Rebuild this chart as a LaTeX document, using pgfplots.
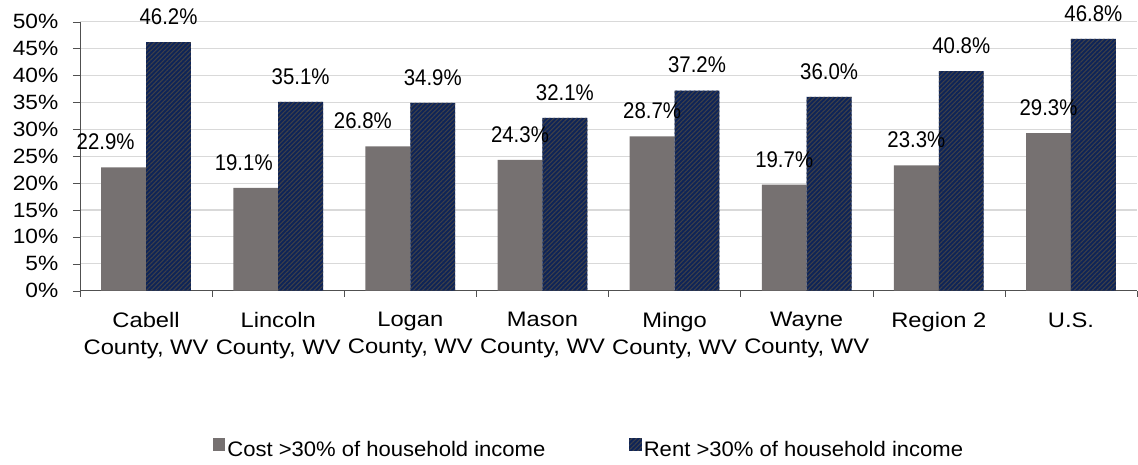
\documentclass[border=0pt]{standalone}
\usepackage{fontspec}
\setmainfont{Liberation Sans}
\newfontfamily\lblfont[FakeStretch=0.9]{Liberation Sans}
\newfontfamily\ytickfont[FakeStretch=1.1]{Liberation Sans}
\newfontfamily\xtickfont[FakeStretch=1.13]{Liberation Sans}
\newfontfamily\legfont[FakeStretch=1.05]{Liberation Sans}
\usepackage{pgfplots}
\usepackage{pgfplotstable}
\pgfplotsset{compat=1.18}
\usetikzlibrary{patterns.meta}

\definecolor{costgray}{RGB}{118,113,113}
\definecolor{rentnavy}{RGB}{14,36,88}
\definecolor{rentstripe}{RGB}{62,64,72}
\definecolor{gridgray}{RGB}{217,217,217}
\definecolor{axisgray}{RGB}{80,80,80}

% square legend swatch
\pgfplotsset{sqlegend/.style={legend image code/.code={\path[##1] (0pt,-0.5pt) rectangle (9.3pt,8.8pt);}}}

% cost burden (all households); dx = manual label nudge in pt
\pgfplotstableread{
x cost dx
0 22.9 -13.5
1 19.1 -9
2 26.8 -18.75
3 24.3 0
4 28.7 0
5 19.7 0
6 23.3 0
7 29.3 0
}\costdata

% rent burden
\pgfplotstableread{
x rent
0 46.2
1 35.1
2 34.9
3 32.1
4 37.2
5 36.0
6 40.8
7 46.8
}\rentdata

\begin{document}
\fontsize{16}{20.25}\selectfont
\begin{tikzpicture}
\begin{axis}[
    scale only axis,
    width=792.75pt,
    height=201.75pt,
    ybar,
    bar width=0.34,
    xmin=-0.5, xmax=7.5,
    ymin=0, ymax=50,
    clip=false,
    axis x line*=bottom,
    axis y line*=left,
    axis line style={axisgray},
    tick align=outside,
    xtick={0,...,7},
    xticklabels={{Cabell\\County, WV},{Lincoln\\County, WV},{Logan\\County, WV},{Mason\\County, WV},{Mingo\\County, WV},{Wayne\\County, WV},{Region 2},{U.S.}},
    xticklabel style={align=center, yshift=-5.5pt, font=\xtickfont\fontsize{15.75}{20.25}\selectfont},
    major x tick style={draw=none},
    minor xtick={-0.5,0.5,...,7.5},
    minor x tick style={axisgray},
    minor tick length=4.5pt,
    ytick={0,5,...,50},
    yticklabel={\pgfmathprintnumber{\tick}\%},
    yticklabel style={xshift=-5.5pt, font=\ytickfont\fontsize{15.5}{18}\selectfont},
    y tick style={axisgray},
    major tick length=5.25pt,
    ymajorgrids,
    grid style={gridgray, line width=0.8pt},
    /pgf/number format/assume math mode=true,
    nodes near coords={\pgfmathprintnumber[fixed,fixed zerofill,precision=1]{\pgfplotspointmeta}\%},
    every node near coord/.append style={inner sep=0pt, yshift=12.8pt, black, font=\lblfont\fontsize{17}{20}\selectfont},
    legend columns=2,
    legend style={
        at={(rel axis cs:0.4816,-0.592)}, anchor=center,
        draw=none, fill=none, inner sep=0pt,
        font=\legfont\fontsize{15.75}{19}\selectfont,
        nodes={inner sep=1.5pt},
        /tikz/every even column/.append style={column sep=61.5pt},
    },
]
\addplot[
    fill=costgray, draw=none, bar shift=-0.17,
    visualization depends on={\thisrow{dx} \as \dx},
    every node near coord/.append style={xshift=\dx pt},
    sqlegend,
] table[x=x, y=cost] {\costdata};
\addlegendentry{Cost >30\% of household income}
\addplot[
    fill=rentnavy, draw=none, bar shift=0.17,
    postaction={pattern={Lines[angle=45,distance=2.4pt,line width=0.8pt]}, pattern color=rentstripe},
    sqlegend,
] table[x=x, y=rent] {\rentdata};
\addlegendentry{Rent >30\% of household income}
\coordinate (bl) at (rel axis cs:0,0);
\end{axis}
\pgfresetboundingbox
\path (bl) ++(-60pt,-130pt) rectangle ++(853.5pt,348pt);
\end{tikzpicture}
\end{document}
